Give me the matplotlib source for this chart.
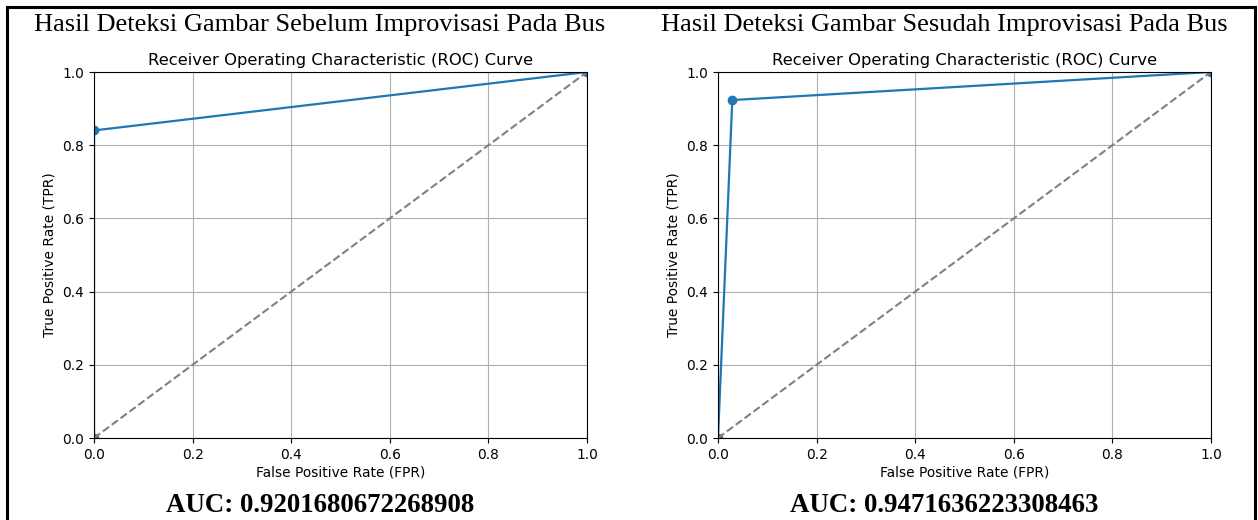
import matplotlib
matplotlib.use("Agg")
from matplotlib import pyplot as plt
from matplotlib.lines import Line2D

# ROC points
fpr_before = [0.0, 0.0, 1.0]
tpr_before = [0.0, 0.8403, 1.0]
fpr_after = [0.0, 0.029, 1.0]
tpr_after = [0.0, 0.9233, 1.0]

headers = ["Hasil Deteksi Gambar Sebelum Improvisasi Pada Bus",
           "Hasil Deteksi Gambar Sesudah Improvisasi Pada Bus"]
auc_texts = ["AUC: 0.9201680672268908", "AUC: 0.9471636223308463"]
ticks = [0.0, 0.2, 0.4, 0.6, 0.8, 1.0]

fig = plt.figure(figsize=(12.58, 5.2), dpi=100)
serif = ["Liberation Serif", "DejaVu Serif"]

lefts = [94/1258, 718/1258]
header_x = [320/1258, 944/1258]
curves = [(fpr_before, tpr_before), (fpr_after, tpr_after)]

for i in range(2):
    ax = fig.add_axes([lefts[i], 82/520, 493/1258, 366/520])
    fpr, tpr = curves[i]
    ax.plot(fpr, tpr, color="#1f77b4", marker="o", markersize=6, lw=1.6, clip_on=True)
    ax.plot([0, 1], [0, 1], color="gray", linestyle="--", lw=1.5)
    ax.set_xlim(0, 1)
    ax.set_ylim(0, 1)
    ax.set_xticks(ticks)
    ax.set_yticks(ticks)
    ax.tick_params(labelsize=9.9)
    ax.grid(True)
    ax.set_title("Receiver Operating Characteristic (ROC) Curve", fontsize=11.8, pad=5)
    ax.set_xlabel("False Positive Rate (FPR)", fontsize=9.9, labelpad=3)
    ax.set_ylabel("True Positive Rate (TPR)", fontsize=9.9)

    fig.text(header_x[i], 1 - 25/520, headers[i], family=serif, fontsize=19,
             ha="center", va="center")
    fig.text(header_x[i], 1 - 505/520, auc_texts[i], family=serif, fontsize=19.4,
             fontweight="bold", ha="center", va="center")

# table-like border around the picture
bw = 2.2
fig.add_artist(Line2D([7/1258, 1255/1258], [1 - 7/520, 1 - 7/520], color="black", lw=bw))
fig.add_artist(Line2D([7/1258, 7/1258], [0, 1 - 7/520], color="black", lw=bw))
fig.add_artist(Line2D([1255/1258, 1255/1258], [0, 1 - 7/520], color="black", lw=bw))

fig.savefig("out.png", dpi=100)
